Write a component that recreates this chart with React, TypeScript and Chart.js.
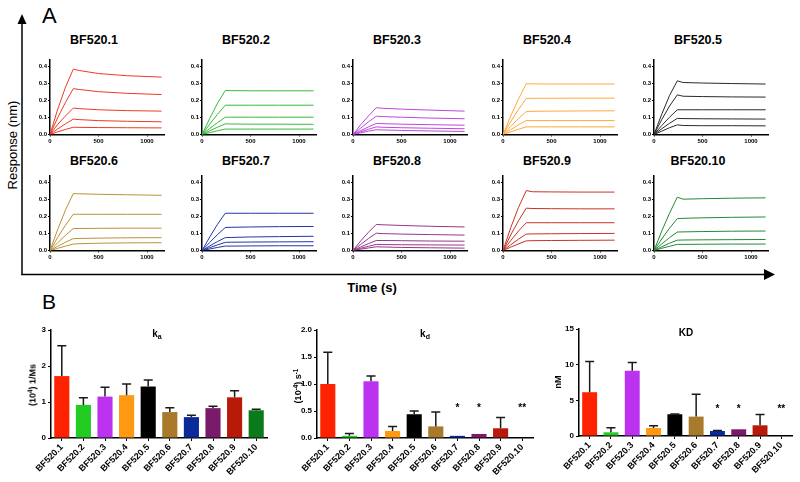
import React, { useEffect, useRef } from "react";
import { Chart, registerables } from "chart.js";
Chart.register(...registerables);
Chart.defaults.font.family = "'Liberation Sans', Arial, sans-serif";

// ---------- data ----------
const NAMES = ["BF520.1", "BF520.2", "BF520.3", "BF520.4", "BF520.5", "BF520.6", "BF520.7", "BF520.8", "BF520.9", "BF520.10"];
const TIME = [0, 80, 160, 240, 300, 500, 800, 1150];
const TIME_TICKS = [0, 500, 1000];
const RESPONSE_TICKS = [0, 0.1, 0.2, 0.3, 0.4];

const LINE_COLORS = ["#ee3a26", "#38bb38", "#bb48dd", "#ffa838", "#2a2a2a", "#b89436", "#2436a8", "#98368a", "#c83426", "#248a36"];
const BAR_COLORS = ["#ff2200", "#22cc22", "#bb33ee", "#ff9911", "#000000", "#a87a2a", "#0a2a9a", "#7a1a6a", "#b81a0a", "#0a7a1a"];

const CURVES_1 = [
  [0, 0.15, 0.28, 0.386, 0.378, 0.36, 0.347, 0.339],
  [0, 0.1, 0.19, 0.271, 0.266, 0.253, 0.243, 0.236],
  [0, 0.06, 0.11, 0.156, 0.153, 0.146, 0.141, 0.138],
  [0, 0.033, 0.063, 0.091, 0.088, 0.082, 0.078, 0.075],
  [0, 0.016, 0.03, 0.043, 0.042, 0.041, 0.04, 0.039],
];
const CURVES_2 = [
  [0, 0.095, 0.185, 0.26, 0.259, 0.258, 0.258, 0.258],
  [0, 0.062, 0.12, 0.173, 0.173, 0.173, 0.173, 0.173],
  [0, 0.036, 0.07, 0.102, 0.102, 0.102, 0.102, 0.102],
  [0, 0.022, 0.043, 0.063, 0.062, 0.061, 0.061, 0.06],
  [0, 0.011, 0.022, 0.032, 0.032, 0.032, 0.032, 0.032],
];
const CURVES_3 = [
  [0, 0.058, 0.11, 0.158, 0.155, 0.15, 0.144, 0.138],
  [0, 0.038, 0.075, 0.108, 0.106, 0.102, 0.097, 0.093],
  [0, 0.023, 0.045, 0.065, 0.064, 0.061, 0.058, 0.055],
  [0, 0.016, 0.031, 0.045, 0.043, 0.04, 0.037, 0.034],
  [0, 0.01, 0.02, 0.028, 0.027, 0.024, 0.021, 0.018],
];
const CURVES_4 = [
  [0, 0.11, 0.21, 0.3, 0.299, 0.298, 0.298, 0.298],
  [0, 0.077, 0.148, 0.213, 0.214, 0.214, 0.215, 0.215],
  [0, 0.048, 0.094, 0.136, 0.137, 0.138, 0.139, 0.14],
  [0, 0.029, 0.057, 0.083, 0.082, 0.082, 0.082, 0.082],
  [0, 0.016, 0.031, 0.045, 0.045, 0.045, 0.045, 0.045],
];
const CURVES_5 = [
  [0, 0.12, 0.23, 0.317, 0.307, 0.304, 0.301, 0.298],
  [0, 0.088, 0.168, 0.234, 0.226, 0.224, 0.222, 0.221],
  [0, 0.053, 0.102, 0.146, 0.146, 0.146, 0.146, 0.146],
  [0, 0.034, 0.066, 0.095, 0.094, 0.093, 0.092, 0.091],
  [0, 0.02, 0.04, 0.057, 0.053, 0.052, 0.052, 0.051],
];
const CURVES_6 = [
  [0, 0.125, 0.24, 0.336, 0.335, 0.332, 0.329, 0.326],
  [0, 0.078, 0.15, 0.214, 0.214, 0.214, 0.214, 0.214],
  [0, 0.046, 0.09, 0.13, 0.13, 0.131, 0.132, 0.132],
  [0, 0.025, 0.049, 0.07, 0.071, 0.073, 0.075, 0.076],
  [0, 0.013, 0.026, 0.038, 0.04, 0.043, 0.045, 0.046],
];
const CURVES_7 = [
  [0, 0.08, 0.155, 0.22, 0.22, 0.22, 0.22, 0.22],
  [0, 0.048, 0.094, 0.136, 0.137, 0.139, 0.141, 0.142],
  [0, 0.027, 0.053, 0.076, 0.077, 0.08, 0.082, 0.084],
  [0, 0.017, 0.033, 0.048, 0.049, 0.05, 0.051, 0.052],
  [0, 0.009, 0.018, 0.026, 0.026, 0.027, 0.028, 0.028],
];
const CURVES_8 = [
  [0, 0.057, 0.108, 0.154, 0.152, 0.148, 0.143, 0.139],
  [0, 0.036, 0.071, 0.102, 0.1, 0.097, 0.094, 0.091],
  [0, 0.021, 0.041, 0.059, 0.059, 0.058, 0.056, 0.055],
  [0, 0.013, 0.025, 0.036, 0.035, 0.034, 0.033, 0.032],
  [0, 0.008, 0.015, 0.022, 0.021, 0.018, 0.016, 0.014],
];
const CURVES_9 = [
  [0, 0.135, 0.255, 0.354, 0.347, 0.346, 0.345, 0.345],
  [0, 0.092, 0.176, 0.25, 0.248, 0.247, 0.246, 0.246],
  [0, 0.059, 0.115, 0.164, 0.164, 0.164, 0.164, 0.164],
  [0, 0.034, 0.067, 0.097, 0.098, 0.099, 0.1, 0.101],
  [0, 0.02, 0.039, 0.057, 0.058, 0.059, 0.06, 0.061],
];
const CURVES_10 = [
  [0, 0.115, 0.22, 0.315, 0.303, 0.306, 0.309, 0.311],
  [0, 0.068, 0.132, 0.188, 0.19, 0.193, 0.196, 0.198],
  [0, 0.039, 0.076, 0.109, 0.11, 0.112, 0.114, 0.115],
  [0, 0.022, 0.043, 0.061, 0.062, 0.063, 0.064, 0.065],
  [0, 0.013, 0.025, 0.036, 0.036, 0.037, 0.038, 0.038],
];
const CURVES = [CURVES_1, CURVES_2, CURVES_3, CURVES_4, CURVES_5, CURVES_6, CURVES_7, CURVES_8, CURVES_9, CURVES_10];

const KA_MEAN = [1.72, 0.92, 1.15, 1.19, 1.43, 0.72, 0.58, 0.83, 1.13, 0.77];
const KA_SD = [0.84, 0.2, 0.26, 0.31, 0.18, 0.12, 0.05, 0.05, 0.18, 0.03];
const KDIS_MEAN = [1.0, 0.04, 1.05, 0.13, 0.44, 0.215, 0.04, 0.075, 0.18, 0];
const KDIS_SD = [0.59, 0.045, 0.1, 0.085, 0.06, 0.265, 0, 0, 0.2, 0];
const KDNM_MEAN = [6.14, 0.52, 9.14, 1.12, 3.05, 2.72, 0.7, 0.94, 1.5, 0];
const KDNM_SD = [4.31, 0.65, 1.16, 0.33, 0.05, 3.14, 0.08, 0, 1.5, 0];
const STARS = ["", "", "", "", "", "", "*", "*", "", "**"];

// ---------- layout constants ----------
const AXIS_X = [50, 202, 353, 503, 654];
const ROW_BOTTOM = [134.5, 250.5];

const blackGrid = (len: number) => ({
  display: true,
  drawOnChartArea: false,
  drawTicks: true,
  tickLength: len,
  color: "#000",
  lineWidth: 1,
});

function SmallChart({ idx }: { idx: number }) {
  const ref = useRef<HTMLCanvasElement>(null);
  const col = idx % 5;
  const row = Math.floor(idx / 5);
  useEffect(() => {
    const chart = new Chart(ref.current!, {
      type: "line",
      data: {
        datasets: CURVES[idx].map((vals) => ({
          data: TIME.map((t, i) => ({ x: t, y: vals[i] })),
          borderColor: LINE_COLORS[idx],
          borderWidth: 1,
          pointRadius: 0,
          tension: 0,
          fill: false,
        })),
      },
      options: {
        animation: false,
        responsive: false,
        devicePixelRatio: 1,
        layout: { padding: { top: 5, right: 6, left: 0, bottom: 0 } },
        plugins: { legend: { display: false }, tooltip: { enabled: false } },
        scales: {
          x: {
            type: "linear",
            min: 0,
            max: 1175,
            afterFit: (s: any) => { s.height = 15.5; },
            afterBuildTicks: (s: any) => { s.ticks = TIME_TICKS.map((v) => ({ value: v })); },
            ticks: { autoSkip: false, maxRotation: 0, padding: 1, color: "#000", font: { size: 6, weight: "bold" }, callback: (v: any) => String(v) },
            grid: blackGrid(2),
            border: { display: true, color: "#000", width: 1.5 },
          },
          y: {
            type: "linear",
            min: 0,
            max: 0.44,
            afterFit: (s: any) => { s.width = 30; },
            afterBuildTicks: (s: any) => { s.ticks = RESPONSE_TICKS.map((v) => ({ value: v })); },
            ticks: { autoSkip: false, padding: 1, color: "#000", font: { size: 6, weight: "bold" }, callback: (v: any) => Number(v).toFixed(1) },
            grid: blackGrid(2),
            border: { display: true, color: "#000", width: 1.5 },
          },
        },
      } as any,
    });
    return () => chart.destroy();
  }, [idx]);
  return (
    <>
      <canvas
        ref={ref}
        width={150}
        height={95}
        style={{ position: "absolute", left: AXIS_X[col] - 30, top: ROW_BOTTOM[row] - 79.5, width: 150, height: 95 }}
      />
      <Label x={AXIS_X[col] + 44} y={row === 0 ? 40 : 161} size={12.5} bold>
        {NAMES[idx]}
      </Label>
    </>
  );
}

type BarProps = {
  left: number; top: number; width: number; height: number; padRight: number;
  mean: number[]; sd: number[]; max: number; step: number; decimals: number; starLevel: number | null;
};

function BarChart(p: BarProps) {
  const ref = useRef<HTMLCanvasElement>(null);
  useEffect(() => {
    const errPlugin = {
      id: "errbars",
      afterDatasetsDraw(chart: any) {
        const meta = chart.getDatasetMeta(0);
        const ys = chart.scales.y;
        const ctx = chart.ctx;
        ctx.save();
        ctx.strokeStyle = "#1a1a1a";
        ctx.lineWidth = 1.5;
        meta.data.forEach((bar: any, i: number) => {
          const s = p.sd[i];
          if (!s) return;
          const x = bar.x;
          const y0 = ys.getPixelForValue(p.mean[i]);
          const y1 = ys.getPixelForValue(p.mean[i] + s);
          ctx.beginPath();
          ctx.moveTo(x, y0);
          ctx.lineTo(x, y1);
          ctx.moveTo(x - 4.5, y1);
          ctx.lineTo(x + 4.5, y1);
          ctx.stroke();
        });
        if (p.starLevel !== null) {
          ctx.fillStyle = "#000";
          ctx.font = "bold 10px 'Liberation Sans', Arial, sans-serif";
          ctx.textAlign = "center";
          ctx.textBaseline = "middle";
          STARS.forEach((s, i) => {
            if (!s) return;
            ctx.fillText(s, meta.data[i].x, ys.getPixelForValue(p.starLevel as number));
          });
        }
        ctx.restore();
      },
    };
    const chart = new Chart(ref.current!, {
      type: "bar",
      data: {
        labels: NAMES,
        datasets: [{ data: p.mean, backgroundColor: BAR_COLORS, borderWidth: 0, barPercentage: 0.7, categoryPercentage: 1 }],
      },
      options: {
        animation: false,
        responsive: false,
        devicePixelRatio: 1,
        layout: { padding: { top: 10, right: p.padRight, left: 0, bottom: 0 } },
        plugins: { legend: { display: false }, tooltip: { enabled: false } },
        scales: {
          x: {
            afterFit: (s: any) => { s.height = 44; },
            ticks: { autoSkip: false, minRotation: 45, maxRotation: 45, padding: 1, color: "#000", font: { size: 9, weight: "bold" } },
            grid: { ...blackGrid(3), offset: false },
            border: { display: true, color: "#000", width: 1.5 },
          },
          y: {
            min: 0,
            max: p.max,
            afterFit: (s: any) => { s.width = 40; },
            ticks: { stepSize: p.step, includeBounds: false, padding: 2, color: "#000", font: { size: 8, weight: "bold" }, callback: (v: any) => Number(v).toFixed(p.decimals) },
            grid: blackGrid(3),
            border: { display: true, color: "#000", width: 1.5 },
          },
        },
      } as any,
      plugins: [errPlugin],
    });
    return () => chart.destroy();
  }, []);
  return (
    <canvas
      ref={ref}
      width={p.width}
      height={p.height}
      style={{ position: "absolute", left: p.left, top: p.top, width: p.width, height: p.height }}
    />
  );
}

function Label({ x, y, size, bold, rotate, children }: { x: number; y: number; size: number; bold?: boolean; rotate?: boolean; children: any }) {
  return (
    <div
      style={{
        position: "absolute",
        left: x,
        top: y,
        transform: `translate(-50%, -50%)${rotate ? " rotate(-90deg)" : ""}`,
        fontSize: size,
        fontWeight: bold ? "bold" : "normal",
        lineHeight: 1,
        whiteSpace: "nowrap",
        color: "#000",
      }}
    >
      {children}
    </div>
  );
}

const supStyle = { fontSize: "0.7em", verticalAlign: "0.45em", lineHeight: 0 } as const;
const subStyle = { fontSize: "0.7em", verticalAlign: "-0.25em", lineHeight: 0 } as const;

export default function App() {
  return (
    <div
      style={{
        position: "absolute",
        left: 0,
        top: 0,
        width: 800,
        height: 482,
        background: "#fff",
        overflow: "hidden",
        fontFamily: "'Liberation Sans', Arial, sans-serif",
      }}
    >
      <svg width={800} height={482} style={{ position: "absolute", left: 0, top: 0 }}>
        <line x1={22} y1={275} x2={22} y2={20} stroke="#000" strokeWidth={1.5} />
        <polygon points="22,14 17.5,24 26.5,24" fill="#000" />
        <line x1={21.25} y1={274.5} x2={768} y2={274.5} stroke="#000" strokeWidth={1.5} />
        <polygon points="775,274.5 764,269 764,280" fill="#000" />
      </svg>
      <div style={{ position: "absolute", left: 42, top: 5, fontSize: 22, lineHeight: 1 }}>A</div>
      <div style={{ position: "absolute", left: 42, top: 291, fontSize: 21, lineHeight: 1 }}>B</div>
      <Label x={12} y={145} size={13} rotate>Response (nm)</Label>
      <Label x={372} y={287} size={13} bold>Time (s)</Label>

      {NAMES.map((_, i) => (
        <SmallChart key={i} idx={i} />
      ))}

      <BarChart left={11} top={320} width={266} height={162} padRight={10} mean={KA_MEAN} sd={KA_SD} max={3} step={1} decimals={0} starLevel={null} />
      <BarChart left={277} top={320} width={266} height={162} padRight={10} mean={KDIS_MEAN} sd={KDIS_SD} max={2} step={0.5} decimals={1} starLevel={0.545} />
      <BarChart left={539} top={319} width={261} height={161} padRight={8} mean={KDNM_MEAN} sd={KDNM_SD} max={15} step={5} decimals={0} starLevel={3.8} />

      <Label x={157} y={334} size={10} bold>k<span style={subStyle}>a</span></Label>
      <Label x={425} y={334} size={10} bold>k<span style={subStyle}>d</span></Label>
      <Label x={686} y={333} size={10} bold>KD</Label>
      <Label x={33} y={385} size={9} bold rotate>(10<span style={supStyle}>4</span>) 1/Ms</Label>
      <Label x={298} y={386} size={9} bold rotate>(10<span style={supStyle}>-4</span>) s<span style={supStyle}>-1</span></Label>
      <Label x={558} y={382} size={9} bold rotate>nM</Label>
    </div>
  );
}
